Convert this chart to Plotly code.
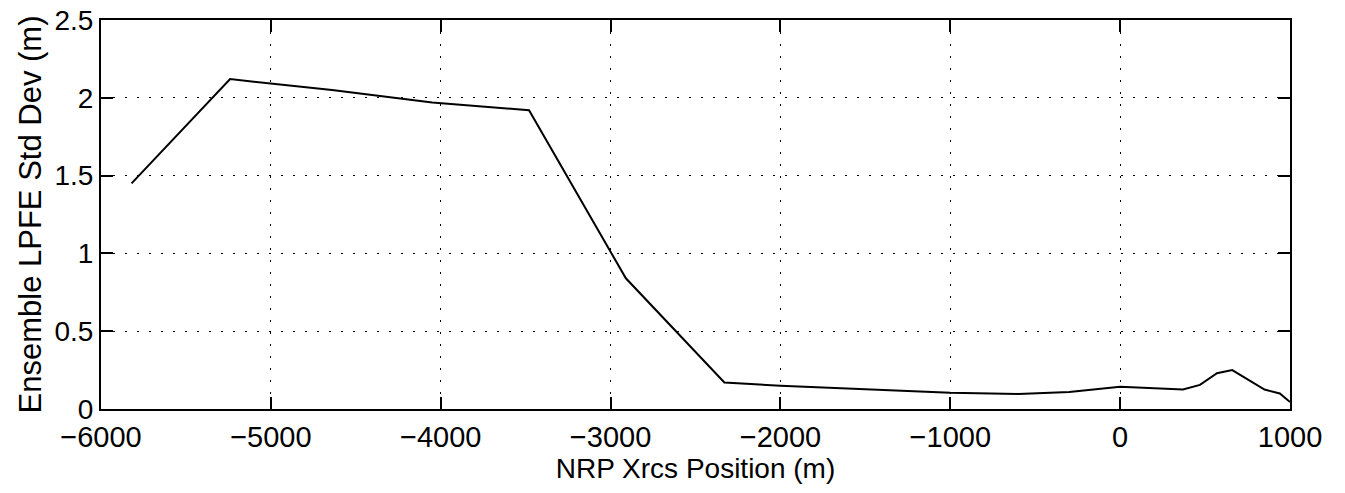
import plotly.graph_objects as go

# NRP cross-shore position (m) and ensemble LPFE std dev (m)
position = [-5820, -5240, -4640, -4050, -3480, -2910, -2330, -2000, -1000, -600,
            -300, 0, 370, 470, 570, 660, 850, 940, 1000]
std_dev = [1.45, 2.12, 2.05, 1.97, 1.92, 0.84, 0.17, 0.15, 0.105, 0.097,
           0.11, 0.143, 0.125, 0.155, 0.23, 0.25, 0.125, 0.10, 0.045]

x_ticks = [-6000, -5000, -4000, -3000, -2000, -1000, 0, 1000]
y_ticks = [0, 0.5, 1, 1.5, 2, 2.5]

font = "Liberation Sans, Arial, Helvetica, sans-serif"

fig = go.Figure()
fig.add_trace(go.Scatter(x=position, y=std_dev, mode="lines",
                         line=dict(color="black", width=2), showlegend=False))

axis_style = dict(
    showline=True, linecolor="black", linewidth=2, mirror="ticks",
    ticks="inside", ticklen=12, tickwidth=1.5, tickcolor="black",
    showgrid=True, gridcolor="black", gridwidth=1, griddash="2px,10px",
    zeroline=False, automargin=False, ticklabeloverflow="allow",
)

fig.update_xaxes(range=[-6000, 1000], tickvals=x_ticks,
                 ticktext=[f"{v}".replace("-", "\u2212") for v in x_ticks],
                 tickfont=dict(size=29, color="black", family=font),
                 ticklabelstandoff=1,
                 title=dict(text="NRP Xrcs Position (m)", standoff=0,
                            font=dict(size=28, color="black", family=font)),
                 **axis_style)
fig.update_yaxes(range=[0, 2.5], tickvals=y_ticks,
                 ticktext=["0", "0.5", "1", "1.5", "2", "2.5"],
                 tickfont=dict(size=28, color="black", family=font),
                 title=dict(text="Ensemble LPFE Std Dev (m)", standoff=4,
                            font=dict(size=31, color="black", family=font)),
                 **axis_style)

# the page body adds an 8px offset, so the figure is a little smaller
fig.update_layout(
    width=1337, height=485,
    margin=dict(l=93, r=55, t=12, b=84),
    plot_bgcolor="white", paper_bgcolor="white",
)

fig.write_html("out.html")
